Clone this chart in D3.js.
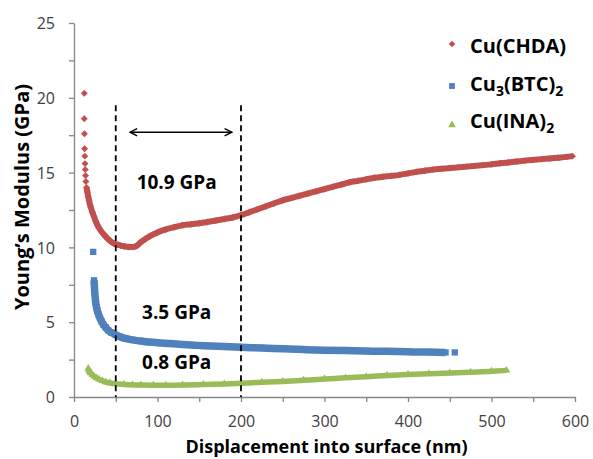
<!DOCTYPE html>
<html>
<head>
<meta charset="utf-8">
<script src="https://cdn.jsdelivr.net/npm/d3@7"></script>
<style>
  body { margin: 0; background: #fff; }
  svg { display: block; font-family: "Open Sans", sans-serif; }
</style>
</head>
<body>
<svg id="chart" width="593" height="459"></svg>
<script>
// --- data ------------------------------------------------------------
// Cu(CHDA): a few isolated points at the start, then a dense run
var chdaLoneX = [12.3, 12.3, 12.5, 12.7, 13.0, 13.2, 13.5, 13.8, 14.2];
var chdaLoneY = [20.3, 18.6, 17.6, 16.6, 16.1, 15.6, 15.2, 14.8, 14.4];
var chdaX = [15, 16, 17, 18, 19, 20, 22, 24, 26, 28, 30, 33, 36, 40, 44, 48, 52, 56, 60, 65,
             70, 75, 80, 85, 90, 95, 100, 110, 120, 130, 140, 150, 160, 170, 180, 190, 200,
             210, 220, 230, 240, 250, 260, 270, 280, 290, 300, 310, 320, 330, 340, 350, 360,
             370, 380, 390, 400, 410, 420, 430, 440, 450, 460, 470, 480, 490, 500, 510, 520,
             530, 540, 550, 560, 570, 580, 590, 597];
var chdaY = [14.0, 13.7, 13.4, 13.15, 12.9, 12.7, 12.35, 12.05, 11.75, 11.5, 11.3, 11.05, 10.85,
             10.6, 10.4, 10.25, 10.18, 10.12, 10.08, 10.03, 10.02, 10.1, 10.35, 10.55, 10.72,
             10.87, 11.0, 11.2, 11.35, 11.48, 11.55, 11.62, 11.7, 11.8, 11.9, 12.0, 12.15,
             12.35, 12.55, 12.75, 12.95, 13.15, 13.3, 13.45, 13.6, 13.75, 13.9, 14.05, 14.2,
             14.35, 14.45, 14.55, 14.65, 14.72, 14.78, 14.85, 14.95, 15.05, 15.12, 15.2, 15.25,
             15.3, 15.35, 15.4, 15.45, 15.5, 15.55, 15.62, 15.68, 15.74, 15.8, 15.85, 15.9,
             15.95, 16.0, 16.05, 16.1];

// Cu3(BTC)2
var btcLoneX = [23, 456];
var btcLoneY = [9.7, 2.98];
var btcX = [24, 24.3, 24.6, 25, 25.5, 26, 27, 28, 29.5, 31, 33, 35, 38, 41, 45, 50, 55, 60, 70,
            80, 90, 100, 115, 130, 145, 155, 180, 200, 225, 250, 275, 300, 325, 350, 375, 400,
            425, 445];
var btcY = [7.8, 7.5, 7.2, 6.9, 6.6, 6.3, 6.0, 5.75, 5.5, 5.3, 5.05, 4.85, 4.65, 4.45, 4.3, 4.15,
            4.02, 3.93, 3.82, 3.74, 3.67, 3.62, 3.57, 3.51, 3.46, 3.43, 3.37, 3.32, 3.28, 3.22,
            3.17, 3.13, 3.1, 3.07, 3.05, 3.02, 3.0, 2.98];

// Cu(INA)2
var inaX = [17, 18, 19, 20, 22, 24, 27, 30, 34, 38, 43, 50, 60, 70, 80, 95, 110, 130, 155, 180,
            200, 225, 250, 275, 300, 325, 350, 375, 400, 425, 450, 475, 500, 518];
var inaY = [1.9, 1.78, 1.68, 1.6, 1.48, 1.38, 1.27, 1.18, 1.08, 1.0, 0.94, 0.88, 0.84, 0.81, 0.8,
            0.79, 0.79, 0.8, 0.83, 0.87, 0.92, 0.98, 1.04, 1.12, 1.2, 1.28, 1.36, 1.44, 1.5, 1.55,
            1.6, 1.66, 1.72, 1.78];

var seriesNames = ["Cu(CHDA)", "Cu3(BTC)2", "Cu(INA)2"];
var xTickValues = [0, 50, 100, 150, 200, 250, 300, 350, 400, 450, 500, 550, 600];
var yTickValues = [0, 2.5, 5, 7.5, 10, 12.5, 15, 17.5, 20, 22.5, 25];
var bracketX = [50, 200];          // dashed guide lines (nm)
var bracketTop = 19.5;             // GPa
var arrowX = [67, 189];            // double arrow span (nm)
var arrowY = 17.7;
var noteTexts = ["10.9 GPa", "3.5 GPa", "0.8 GPa"];
var noteX = [123, 123, 123];
var noteY = [13.9, 5.2, 1.85];

// --- scales ---------------------------------------------------------------
var svg = d3.select("#chart");
var scX = d3.scaleLinear().domain([0, 600]).range([74, 575]);
var scY = d3.scaleLinear().domain([0, 25]).range([397, 23]);

var axisColor = "#868686", labelColor = "#404040";

// x axis
var gx = svg.append("g").attr("transform", "translate(0," + scY(0) + ")")
    .call(d3.axisBottom(scX).tickValues(xTickValues).tickSizeInner(5).tickSizeOuter(0)
        .tickFormat(d => d % 100 === 0 ? d : ""));
gx.select(".domain").attr("stroke", axisColor).attr("stroke-width", 1.3);
gx.selectAll(".tick line").attr("stroke", axisColor).attr("stroke-width", 1.3);
gx.selectAll(".tick text").attr("y", 30).attr("dy", 0)
    .attr("font-size", 16).attr("font-family", "Open Sans").attr("fill", labelColor);

// y axis
var gy = svg.append("g").attr("transform", "translate(" + scX(0) + ",0)")
    .call(d3.axisLeft(scY).tickValues(yTickValues).tickSizeInner(5).tickSizeOuter(0)
        .tickFormat(d => d % 5 === 0 ? d : ""));
gy.select(".domain").attr("stroke", axisColor).attr("stroke-width", 1.3);
gy.selectAll(".tick line").attr("stroke", axisColor).attr("stroke-width", 1.3);
gy.selectAll(".tick text").attr("x", -19).attr("dy", "0.36em")
    .attr("font-size", 16).attr("font-family", "Open Sans").attr("fill", labelColor);

// axis titles
svg.append("text").attr("x", (scX(0) + scX(600)) / 2 + 2).attr("y", 453)
    .attr("text-anchor", "middle").attr("font-size", 18).attr("font-weight", "bold")
    .text("Displacement into surface (nm)");
svg.append("text").attr("transform", "translate(29,197) rotate(-90)")
    .attr("text-anchor", "middle").attr("font-size", 20).attr("font-weight", "bold")
    .text("Young\u2019s Modulus (GPa)");

// --- series -----------------------------------------------------------------
var pts = (xs, ys) => xs.map((x, i) => [x, ys[i]]);
var series = [
    { name: seriesNames[0], color: "#C0504D", dense: pts(chdaX, chdaY), lone: pts(chdaLoneX, chdaLoneY),
      width: 6, symbol: d3.symbolSquare, size: 24, rotate: 45 },
    { name: seriesNames[1], color: "#4F81BD", dense: pts(btcX, btcY), lone: pts(btcLoneX, btcLoneY),
      width: 7.5, symbol: d3.symbolSquare, size: 40, rotate: 0 },
    { name: seriesNames[2], color: "#9BBB59", dense: pts(inaX, inaY), lone: [],
      width: 5.5, symbol: d3.symbolTriangle, size: 26, rotate: 0 }
];

var lineMaker = d3.line().x(d => scX(d[0])).y(d => scY(d[1])).curve(d3.curveMonotoneX);

series.forEach(function(s) {
    var g = svg.append("g").attr("fill", s.color);
    g.append("path").attr("fill", "none").attr("stroke", s.color)
        .attr("stroke-width", s.width).attr("stroke-linejoin", "round")
        .attr("d", lineMaker(s.dense));
    g.selectAll("path.mark").data(s.dense.concat(s.lone)).enter().append("path")
        .attr("class", "mark")
        .attr("d", d3.symbol().type(s.symbol).size(s.size))
        .attr("transform", d => "translate(" + scX(d[0]) + "," + scY(d[1]) + ") rotate(" + s.rotate + ")");
});

// --- annotations ----------------------------------------------------------
var defs = svg.append("defs");
defs.append("marker").attr("id", "head").attr("viewBox", "0 0 10 10")
    .attr("refX", 9).attr("refY", 5).attr("markerWidth", 9).attr("markerHeight", 9)
    .attr("markerUnits", "userSpaceOnUse").attr("orient", "auto-start-reverse")
    .append("path").attr("d", "M1,1 L9,5 L1,9").attr("fill", "none")
    .attr("stroke", "#000").attr("stroke-width", 1.6);

svg.selectAll("line.guide").data(bracketX).enter().append("line")
    .attr("class", "guide")
    .attr("x1", d => scX(d)).attr("x2", d => scX(d))
    .attr("y1", scY(bracketTop)).attr("y2", scY(0))
    .attr("stroke", "#000").attr("stroke-width", 1.8).attr("stroke-dasharray", "6,4");

svg.append("line")
    .attr("x1", scX(arrowX[0])).attr("x2", scX(arrowX[1]))
    .attr("y1", scY(arrowY)).attr("y2", scY(arrowY))
    .attr("stroke", "#000").attr("stroke-width", 1.5)
    .attr("marker-start", "url(#head)").attr("marker-end", "url(#head)");

svg.selectAll("text.note").data(noteTexts).enter().append("text")
    .attr("class", "note")
    .attr("x", (d, i) => scX(noteX[i])).attr("y", (d, i) => scY(noteY[i]))
    .attr("text-anchor", "middle").attr("font-size", 19).attr("font-weight", "bold")
    .text(d => d);

// --- legend -----------------------------------------------------------------
var legend = svg.append("g").attr("transform", "translate(452,0)");
var legendRowY = [53, 91, 128];
var legendMarkY = [44, 86, 125];
var legendMarkSize = [22, 34, 26];
series.forEach(function(s, i) {
    legend.append("path")
        .attr("d", d3.symbol().type(s.symbol).size(legendMarkSize[i]))
        .attr("fill", s.color)
        .attr("transform", "translate(0," + legendMarkY[i] + ") rotate(" + s.rotate + ")");
    var t = legend.append("text").attr("x", 18).attr("y", legendRowY[i])
        .attr("font-size", 20).attr("font-weight", "bold");
    // names with subscript digits
    var shift = 0;
    s.name.match(/[^0-9]+|[0-9]/g).forEach(function(p) {
        var sub = /[0-9]/.test(p);
        var dy = sub ? 5 : -shift;
        shift = sub ? 5 : 0;
        t.append("tspan").attr("dy", dy).attr("font-size", sub ? 14 : 20).text(p);
    });
});
</script>
</body>
</html>
